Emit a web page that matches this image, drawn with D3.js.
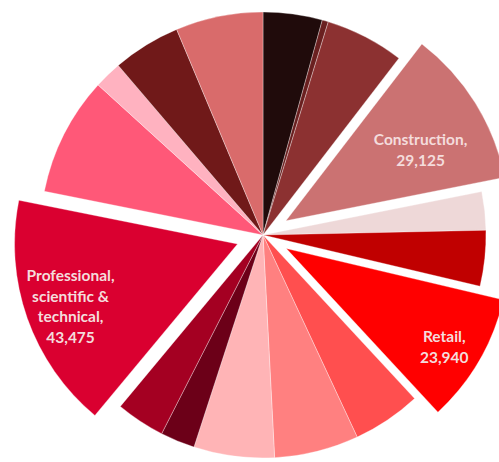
<!DOCTYPE html>
<html><head><meta charset="utf-8">
<script src="https://cdn.jsdelivr.net/npm/d3@7"></script>
<style>html,body{margin:0;padding:0;background:#fff;overflow:hidden;}</style>
</head><body><svg id="chart" width="499" height="462"></svg>
<script>
// Data (clockwise from 12 o'clock)
const categories = [
  "Agriculture, forestry & fishing",
  "Mining, quarrying & utilities",
  "Manufacturing",
  "Construction",
  "Motor trades",
  "Wholesale",
  "Retail",
  "Transport & storage",
  "Accommodation & food services",
  "Information & communication",
  "Financial & insurance",
  "Property",
  "Professional, scientific & technical",
  "Business administration & support services",
  "Education",
  "Health",
  "Arts, entertainment, recreation & other services"
];
const values = [10900, 1130, 14500, 29125, 7070, 10250, 23940, 12600, 15550, 14850, 6360, 9000, 43475, 21900, 5100, 12500, 16100];
const colors = ["#200b0b", "#6a2020", "#8c3131", "#cb7272", "#eed8d8", "#c00000", "#ff0000", "#ff4f4f", "#ff8080", "#ffb4b6", "#6c0018", "#a40022", "#da0030", "#ff5878", "#ffb2c0", "#701919", "#d96b6b"];
const explodedCategories = ["Construction", "Retail", "Professional, scientific & technical"];
const labelledCategories = ["Construction", "Retail", "Professional, scientific & technical"];

// Layout
const W = 499, H = 462;
const cx = 263, cy = 235, R = 223;
const explodeDist = 27;
const labelRadius = {"Construction": 0.682, "Retail": 0.834, "Professional, scientific & technical": 0.8};
const labelAngleShift = {"Construction": 0.072, "Retail": 0.029, "Professional, scientific & technical": -0.02};

const svg = d3.select("#chart");
const g = svg.append("g").attr("transform", `translate(${cx},${cy})`);

const data = categories.map((c, i) => ({name: c, value: values[i], color: colors[i]}));
const pie = d3.pie().value(d => d.value).sort(null).startAngle(0).endAngle(2 * Math.PI);
const arcs = pie(data);
const arc = d3.arc().innerRadius(0).outerRadius(R);

function offset(d) {
  if (!explodedCategories.includes(d.data.name)) return [0, 0];
  const a = (d.startAngle + d.endAngle) / 2;
  return [Math.sin(a) * explodeDist, -Math.cos(a) * explodeDist];
}

g.selectAll("path.slice").data(arcs).join("path")
  .attr("class", "slice")
  .attr("d", arc)
  .attr("fill", d => d.data.color)
  .attr("stroke", "rgba(255,255,255,0.55)")
  .attr("stroke-width", 0.6)
  .attr("stroke-linejoin", "round")
  .attr("transform", d => { const o = offset(d); return `translate(${o[0]},${o[1]})`; });

const fmt = d3.format(",");
function labelLines(name, value) {
  let lines;
  if (name === "Professional, scientific & technical") lines = ["Professional,", "scientific &", "technical,"];
  else lines = [name + ","];
  lines.push(fmt(value));
  return lines;
}

const lineH = 20.5;
const labels = g.selectAll("g.lbl").data(arcs.filter(d => labelledCategories.includes(d.data.name))).join("g")
  .attr("class", "lbl")
  .attr("transform", d => {
    const o = offset(d);
    const a = (d.startAngle + d.endAngle) / 2 + (labelAngleShift[d.data.name] || 0);
    const r = R * (labelRadius[d.data.name] || 0.77);
    return `translate(${o[0] + Math.sin(a) * r},${o[1] - Math.cos(a) * r})`;
  });

labels.each(function(d) {
  const lines = labelLines(d.data.name, d.data.value);
  const n = lines.length;
  d3.select(this).selectAll("text").data(lines).join("text")
    .attr("x", 0)
    .attr("y", (t, i) => (i - (n - 1) / 2) * lineH)
    .attr("dy", "0.35em")
    .attr("text-anchor", "middle")
    .attr("font-family", "Lato, 'Open Sans', sans-serif")
    .attr("font-weight", "bold")
    .attr("font-size", 15.5)
    .attr("fill", "#f4dcdc")
    .text(t => t);
});
</script>
</body></html>
